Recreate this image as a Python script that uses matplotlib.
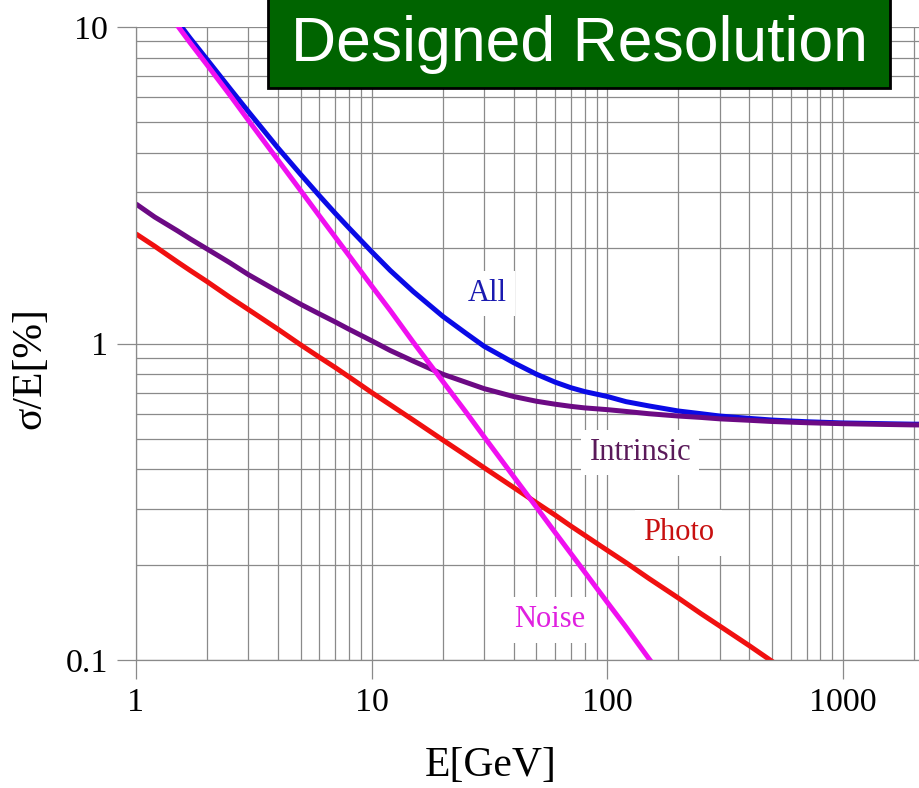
import numpy as np
import matplotlib.pyplot as plt
from matplotlib.patches import Rectangle
from matplotlib.ticker import LogLocator, FixedLocator, NullFormatter

plt.rcParams.update({"font.family": "Liberation Serif", "font.size": 22})

# values (sigma/E in %)
energy = [1, 1.2, 1.5, 1.7, 2, 2.5, 3, 4, 5, 6, 7, 8, 10, 12, 15, 20, 25, 30, 40, 50, 60, 70, 80,
          100, 120, 150, 200, 250, 300, 400, 500, 700, 1000, 1500, 2000, 2200]
res_all = [15.5, 12.9, 10.4, 9.2, 7.9, 6.4, 5.4, 4.15, 3.42, 2.93, 2.58, 2.32, 1.95, 1.70, 1.46, 1.22,
           1.08, 0.98, 0.87, 0.80, 0.755, 0.725, 0.705, 0.68, 0.655, 0.635, 0.612, 0.60, 0.59, 0.58,
           0.573, 0.566, 0.561, 0.558, 0.556, 0.556]
res_intrinsic = [2.76, 2.51, 2.27, 2.14, 1.99, 1.80, 1.65, 1.46, 1.33, 1.24, 1.17, 1.11, 1.02, 0.95, 0.88,
                 0.80, 0.755, 0.72, 0.68, 0.657, 0.643, 0.633, 0.626, 0.618, 0.61, 0.60, 0.59, 0.584,
                 0.578, 0.572, 0.567, 0.562, 0.558, 0.555, 0.553, 0.553]
res_photo = [2.22, 2.03, 1.81, 1.70, 1.57, 1.40, 1.28, 1.11, 0.99, 0.905, 0.84, 0.785, 0.70, 0.64, 0.573,
             0.496, 0.444, 0.405, 0.351, 0.314, 0.287, 0.265, 0.248, 0.222, 0.203, 0.181, 0.157,
             0.14, 0.128, 0.111, 0.099, 0.084, 0.07, 0.057, 0.05, 0.047]
res_noise = [15.2, 12.7, 10.1, 8.9, 7.6, 6.1, 5.07, 3.8, 3.04, 2.53, 2.17, 1.9, 1.52, 1.27, 1.01, 0.76,
             0.61, 0.507, 0.38, 0.304, 0.253, 0.217, 0.19, 0.152, 0.127, 0.101, 0.076, 0.061, 0.05,
             0.038, 0.03, 0.022, 0.015, 0.01, 0.0076, 0.0069]

series = [
    ("All", res_all, "#0a0ae6", "#1a1ab0", 31, 1.44),
    ("Intrinsic", res_intrinsic, "#6c0a84", "#5a1a5a", 138, 0.453),
    ("Photo", res_photo, "#f01010", "#c81010", 200, 0.252),
    ("Noise", res_noise, "#f010f0", "#e020e0", 57, 0.134),
]

fig = plt.figure(figsize=(9.19, 7.88), dpi=100)
ax = fig.add_axes([136 / 919, 1 - 660 / 788, 1 - 136 / 919, (660 - 27) / 788])
ax.set_xscale("log")
ax.set_yscale("log")
ax.set_xlim(1, 2100)
ax.set_ylim(0.1, 10)

ax.grid(True, which="both", color="#8a8a8a", linewidth=0.9)
ax.set_axisbelow(True)
for s in ["top", "right"]:
    ax.spines[s].set_visible(False)
for s in ["left", "bottom"]:
    ax.spines[s].set_color("#8a8a8a")
    ax.spines[s].set_linewidth(0.9)

ax.xaxis.set_major_locator(FixedLocator([1, 10, 100, 1000]))
ax.set_xticklabels(["1", "10", "100", "1000"])
ax.yaxis.set_major_locator(FixedLocator([0.1, 1, 10]))
ax.set_yticklabels(["0.1", "1", "10"])
ax.xaxis.set_minor_locator(LogLocator(base=10, subs=np.arange(2, 10)))
ax.yaxis.set_minor_locator(LogLocator(base=10, subs=np.arange(2, 10)))
ax.xaxis.set_minor_formatter(NullFormatter())
ax.yaxis.set_minor_formatter(NullFormatter())
ax.tick_params(which="major", length=14, color="#8a8a8a", width=0.9, labelsize=24.5, pad=6)
ax.tick_params(which="minor", length=0)

for name, vals, col, tcol, tx, ty in series:
    ax.plot(energy, vals, color=col, linewidth=3.6, solid_capstyle="butt")
    ax.text(tx, ty, name, color=tcol, fontsize=22, ha="center", va="center",
            bbox=dict(facecolor="white", edgecolor="none", pad=6))

ax.set_xlabel("E[GeV]", fontsize=30, va="center")
ax.xaxis.set_label_coords((491 - 136) / 783, -(766 - 660) / 633)
ax.set_ylabel("σ/E[%]", fontsize=30, va="center")
ax.yaxis.set_label_coords(-(136 - 30) / 783, (660 - 368) / 633)

# title box
fig.patches.append(Rectangle((268 / 919, 1 - 88 / 788), 622 / 919, 90 / 788,
                             transform=fig.transFigure, facecolor="#006400",
                             edgecolor="black", linewidth=2, zorder=5))
fig.text(579 / 919, 1 - 44 / 788, "Designed Resolution", family="Liberation Sans",
         fontsize=45, color="white", ha="center", va="center", zorder=6)

plt.savefig("out.png", dpi=100)
